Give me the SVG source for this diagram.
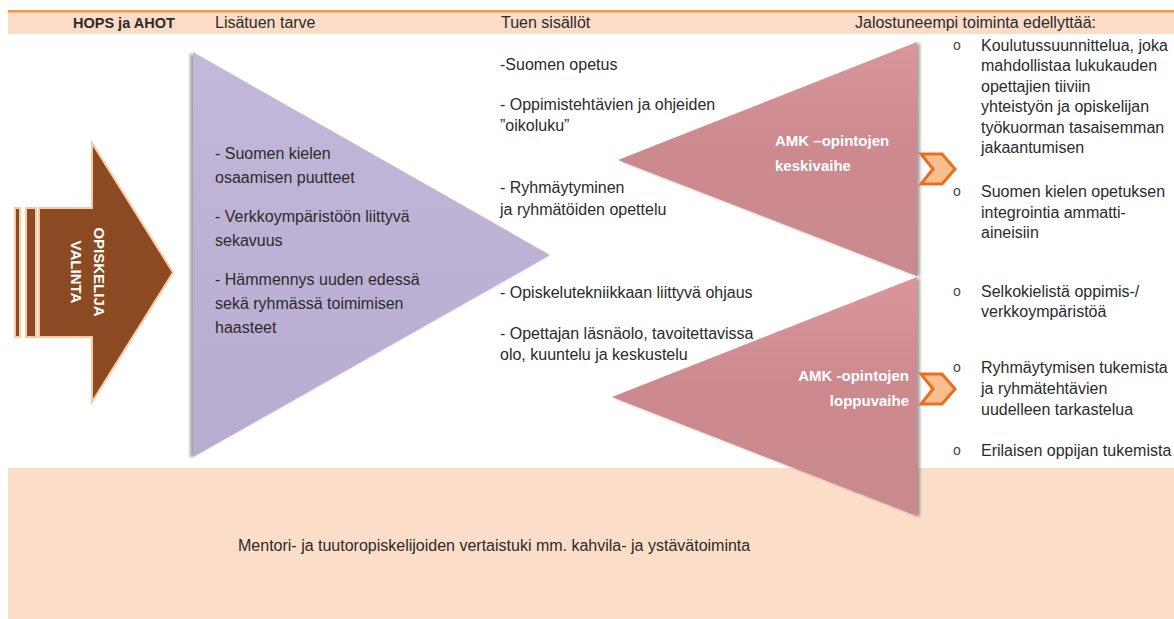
<svg xmlns="http://www.w3.org/2000/svg" width="1174" height="619" viewBox="0 0 1174 619">
<defs>
  <style>
    text { font-family: "Liberation Sans", Arial, sans-serif; fill: #2b2b2b; }
    .t16 { font-size: 16px; }
    .hb { font-size: 14.5px; font-weight: bold; }
    .wb { font-size: 15px; font-weight: bold; fill: #ffffff; }
    .ab { font-size: 15px; font-weight: bold; fill: #ffffff; }
    .bul { font-size: 14px; fill: #444; }
    .brown { fill: #8c4a22; stroke: #f9c9a4; stroke-width: 2; }
    .chev { fill: #fbbf8f; stroke: #e8701c; stroke-width: 3; stroke-linejoin: miter; }
  </style>
  <linearGradient id="gPurple" x1="0" y1="0" x2="0" y2="1">
    <stop offset="0" stop-color="#c2b8d9"/>
    <stop offset="1" stop-color="#b8acd0"/>
  </linearGradient>
  <linearGradient id="gRed" x1="0" y1="0" x2="0" y2="1">
    <stop offset="0" stop-color="#d9969b"/>
    <stop offset="0.45" stop-color="#cd8a8e"/>
    <stop offset="1" stop-color="#c98a8d"/>
  </linearGradient>
  <filter id="shL" x="-10%" y="-10%" width="120%" height="120%">
    <feDropShadow dx="-3" dy="1" stdDeviation="1.5" flood-color="#666" flood-opacity="0.6"/>
  </filter>
  <filter id="shR" x="-10%" y="-10%" width="120%" height="120%">
    <feDropShadow dx="3" dy="1" stdDeviation="1.5" flood-color="#666" flood-opacity="0.6"/>
  </filter>
</defs>

<rect width="1174" height="619" fill="#ffffff"/>

<!-- header band -->
<g id="header">
  <rect x="8" y="11" width="1166" height="23" fill="#fcdcc6"/>
  <rect x="8" y="10" width="1166" height="2.5" fill="#f79646"/>
  <text class="hb" x="73" y="28">HOPS ja AHOT</text>
  <text class="t16" x="215" y="28">Lisätuen tarve</text>
  <text class="t16" x="501" y="28">Tuen sisällöt</text>
  <text class="t16" x="855" y="28">Jalostuneempi toiminta edellyttää:</text>
</g>

<!-- bottom band -->
<g id="bottom-band">
  <rect x="8" y="468" width="1166" height="151" fill="#fcdec8"/>
  <text class="t16" x="238" y="551">Mentori- ja tuutoropiskelijoiden vertaistuki mm. kahvila- ja ystävätoiminta</text>
</g>

<!-- student selection arrow -->
<g id="opiskelija-valinta">
  <rect class="brown" x="15" y="208" width="5" height="129"/>
  <rect class="brown" x="26" y="208" width="10" height="129"/>
  <polygon class="brown" points="39,208 92,208 92,143 173,272.5 92,402 92,337 39,337"/>
  <text class="ab" text-anchor="middle" transform="translate(94,272) rotate(90)">OPISKELIJA</text>
  <text class="ab" text-anchor="middle" transform="translate(71,272) rotate(90)">VALINTA</text>
</g>

<!-- purple triangle: Lisätuen tarve -->
<g id="lisatuen-tarve">
  <polygon points="193,52 550,255 193,457" fill="url(#gPurple)" filter="url(#shL)"/>
  <text class="t16" x="215" y="159">- Suomen kielen</text>
  <text class="t16" x="215" y="183">osaamisen puutteet</text>
  <text class="t16" x="215" y="222">- Verkkoympäristöön liittyvä</text>
  <text class="t16" x="215" y="246">sekavuus</text>
  <text class="t16" x="215" y="285">- Hämmennys uuden edessä</text>
  <text class="t16" x="215" y="309">sekä ryhmässä toimimisen</text>
  <text class="t16" x="215" y="333">haasteet</text>
</g>

<!-- support contents -->
<g id="tuen-sisallot">
  <text class="t16" x="500" y="70">-Suomen opetus</text>
  <text class="t16" x="500" y="110">- Oppimistehtävien ja ohjeiden</text>
  <text class="t16" x="500" y="131">”oikoluku”</text>
  <text class="t16" x="500" y="193">- Ryhmäytyminen</text>
  <text class="t16" x="500" y="215">ja ryhmätöiden opettelu</text>
  <text class="t16" x="500" y="298">- Opiskelutekniikkaan liittyvä ohjaus</text>
  <text class="t16" x="500" y="339">- Opettajan läsnäolo, tavoitettavissa</text>
  <text class="t16" x="500" y="360">olo, kuuntelu ja keskustelu</text>
</g>

<!-- red triangle: keskivaihe -->
<g id="keskivaihe">
  <polygon points="917,42 917,276 618,160" fill="url(#gRed)" filter="url(#shR)"/>
  <text class="wb" x="775" y="146">AMK –opintojen</text>
  <text class="wb" x="775" y="171">keskivaihe</text>
</g>

<!-- red triangle: loppuvaihe -->
<g id="loppuvaihe">
  <polygon points="917,277 917,516 612,397" fill="url(#gRed)" filter="url(#shR)"/>
  <text class="wb" x="909" y="381" text-anchor="end">AMK -opintojen</text>
  <text class="wb" x="909" y="406" text-anchor="end">loppuvaihe</text>
</g>

<!-- connectors (chevrons) -->
<g id="connectors">
  <polygon class="chev" points="921,154 942,154 955,169 942,184 921,184 933,169"/>
  <polygon class="chev" points="921,374 942,374 955,389 942,404 921,404 933,389"/>
</g>

<!-- requirements list -->
<g id="edellyttaa">
  <text class="bul" x="953" y="50">o</text>
  <text class="t16" x="981" y="51">Koulutussuunnittelua, joka</text>
  <text class="t16" x="981" y="71">mahdollistaa lukukauden</text>
  <text class="t16" x="981" y="92">opettajien tiiviin</text>
  <text class="t16" x="981" y="112">yhteistyön ja opiskelijan</text>
  <text class="t16" x="981" y="133">työkuorman tasaisemman</text>
  <text class="t16" x="981" y="153">jakaantumisen</text>

  <text class="bul" x="953" y="196">o</text>
  <text class="t16" x="981" y="197">Suomen kielen opetuksen</text>
  <text class="t16" x="981" y="218">integrointia ammatti-</text>
  <text class="t16" x="981" y="238">aineisiin</text>

  <text class="bul" x="953" y="296">o</text>
  <text class="t16" x="981" y="297">Selkokielistä oppimis-/</text>
  <text class="t16" x="981" y="317">verkkoympäristöä</text>

  <text class="bul" x="953" y="372">o</text>
  <text class="t16" x="981" y="373">Ryhmäytymisen tukemista</text>
  <text class="t16" x="981" y="394">ja ryhmätehtävien</text>
  <text class="t16" x="981" y="415">uudelleen tarkastelua</text>

  <text class="bul" x="953" y="455">o</text>
  <text class="t16" x="981" y="456">Erilaisen oppijan tukemista</text>
</g>
</svg>
